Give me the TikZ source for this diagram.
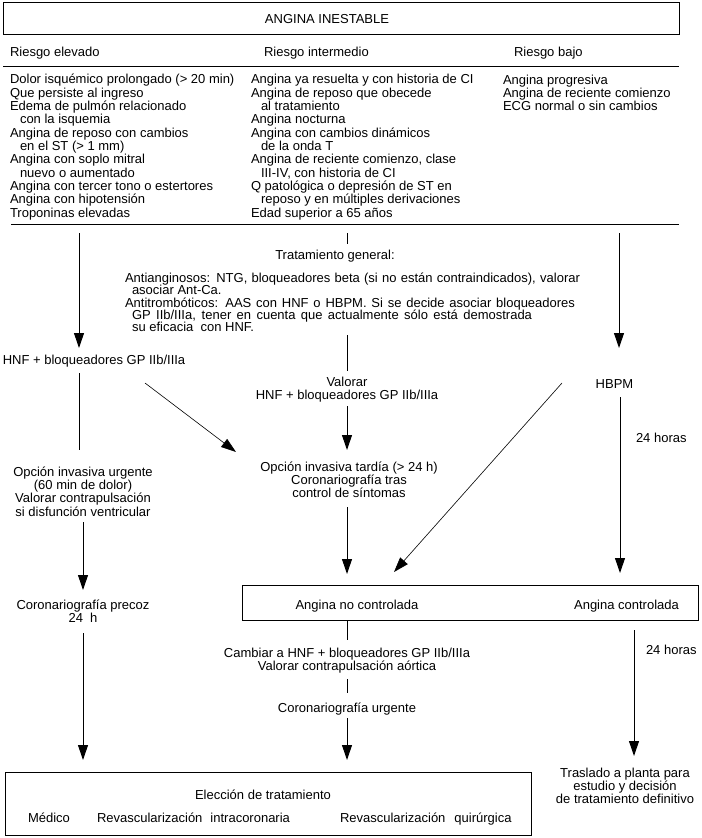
\documentclass[tikz,border=0pt]{standalone}
\usepackage{fontspec}
\setmainfont{Liberation Sans}
\usetikzlibrary{arrows.meta}
\setlength{\lineskiplimit}{-20pt}
\setlength{\lineskip}{0pt}
\begin{document}
\begin{tikzpicture}[x=0.75pt,y=-0.75pt,
  every node/.style={inner sep=0pt, outer sep=0pt},
  ftn/.style={font=\fontsize{9.75pt}{9.9pt}\selectfont},
  ftt/.style={font=\fontsize{9.75pt}{10pt}\selectfont},
  ftp/.style={font=\fontsize{9.75pt}{9.2pt}\selectfont},
  lt/.style={ftn, anchor=base west, align=left},
  ct/.style={ftn, anchor=base, align=center},
  tbl/.style={ftt, anchor=base west, align=left},
  parabox/.style={ftp, anchor=base west, align=left},
  boxnode/.style={draw, line width=0.75pt, anchor=north west},
  ln/.style={line width=0.75pt},
  arr/.style={line width=0.75pt, -{Triangle[length=11.25pt,width=7.5pt]}},
  diag/.style={line width=0.45pt, -{Triangle[length=11.25pt,width=7.5pt]}}
]
\useasboundingbox (0,0) rectangle (702,838);
\newcommand{\ind}{\hspace*{7.5pt}}
\newcommand{\pind}{\hspace*{5.25pt}}
% multi-line nodes are placed by the baseline of their LAST line

% title and table
\node[boxnode, minimum width=507pt, minimum height=24pt] (titlebox) at (3,3) {};
\node[ct] (title) at (327,23.5) {ANGINA INESTABLE};
\node[lt] (h1) at (10,56.5) {Riesgo elevado};
\node[lt] (h2) at (264,56.5) {Riesgo intermedio};
\node[lt] (h3) at (514,56.5) {Riesgo bajo};
\coordinate (r1a) at (3,67); \coordinate (r1b) at (679,67);
\draw[ln] (r1a) -- (r1b);

\node[tbl] (c1) at (10,217.3) {Dolor isquémico prolongado (> 20 min)\\
Que persiste al ingreso\\
Edema de pulmón relacionado\\
\ind con la isquemia\\
Angina de reposo con cambios\\
\ind en el ST (> 1 mm)\\
Angina con soplo mitral\\
\ind nuevo o aumentado\\
Angina con tercer tono o estertores\\
Angina con hipotensión\\
Troponinas elevadas};
\node[tbl] (c2) at (251,217.3) {Angina ya resuelta y con historia de CI\\
Angina de reposo que obecede\\
\ind al tratamiento\\
Angina nocturna\\
Angina con cambios dinámicos\\
\ind de la onda T\\
Angina de reciente comienzo, clase\\
\ind III-IV, con historia de CI\\
Q patológica o depresión de ST en\\
\ind reposo y en múltiples derivaciones\\
Edad superior a 65 años};
\node[tbl] (c3) at (503,110.7) {Angina progresiva\\
Angina de reciente comienzo\\
ECG normal o sin cambios};
\coordinate (r2a) at (11,224); \coordinate (r2b) at (679,224);
\draw[ln] (r2a) -- (r2b);

% left column
\coordinate (L0) at (79,233);
\node[ct] (hnfL) at (94,364.5) {HNF + bloqueadores GP IIb/IIIa};
\draw[arr] (L0) -- (79,348);
\coordinate (L1) at (79,373); \coordinate (L2) at (79,450);
\draw[ln] (L1) -- (L2);
\node[ct] (urg) at (83,516.1) {Opción invasiva urgente\\(60 min de dolor)\\Valorar contrapulsación\\si disfunción ventricular};
\coordinate (L3) at (83,522); \coordinate (L4) at (83,590);
\draw[arr] (L3) -- (L4);
\node[ct] (precoz) at (83,622.7) {Coronariografía precoz\\24\ \ h};
\coordinate (L5) at (83,633); \coordinate (L6) at (83,760);
\draw[arr] (L5) -- (L6);

% middle column
\coordinate (M0) at (347,233); \coordinate (M1) at (347,244);
\draw[ln] (M0) -- (M1);
\node[ct] (trat) at (335,259.5) {Tratamiento general:};
\node[parabox] (para) at (125,331.6) {\makebox[341.25pt][s]{Antianginosos: NTG, bloqueadores beta (si no están contraindicados), valorar}\\
\pind asociar Ant-Ca.\\
\makebox[337.5pt][s]{Antitrombóticos: AAS con HNF o HBPM. Si se decide asociar bloqueadores}\\
\pind\makebox[300pt][s]{GP IIb/IIIa, tener en cuenta que actualmente sólo está demostrada}\\
\pind su eficacia\ \ con HNF.};
\coordinate (M2) at (347,335); \coordinate (M3) at (347,371);
\draw[ln] (M2) -- (M3);
\node[ct] (valorar) at (347,399.7) {Valorar\\HNF + bloqueadores GP IIb/IIIa};
\coordinate (M4) at (347,406); \coordinate (M5) at (347,450);
\draw[arr] (M4) -- (M5);
\node[ct] (tardia) at (349,497.9) {Opción invasiva tardía (> 24 h)\\Coronariografía tras\\control de síntomas};
\coordinate (M6) at (347,507); \coordinate (M7) at (347,574);
\draw[arr] (M6) -- (M7);

% right column
\coordinate (R0) at (619,233); \coordinate (R1) at (619,348);
\draw[arr] (R0) -- (R1);
\node[ct] (hbpm) at (614.5,388.5) {HBPM};
\coordinate (R2) at (620,397); \coordinate (R3) at (620,573);
\draw[arr] (R2) -- (R3);
\node[lt] (h24a) at (636,442.5) {24 horas};

% diagonals
\coordinate (D1a) at (145,383); \coordinate (D1b) at (236,452);
\draw[diag] (D1a) -- (D1b);
\coordinate (D2a) at (562,383); \coordinate (D2b) at (394,572);
\draw[diag] (D2a) -- (D2b);

% angina box
\node[boxnode, minimum width=342pt, minimum height=26.25pt] (abox) at (242,585) {};
\node[ct] (nocont) at (357,609.5) {Angina no controlada};
\node[ct] (cont) at (626.5,609.5) {Angina controlada};

% below the box, middle
\coordinate (B0) at (347,620); \coordinate (B1) at (347,640);
\draw[ln] (B0) -- (B1);
\node[ct] (cambiar) at (347,670.2) {Cambiar a HNF + bloqueadores GP IIb/IIIa\\Valorar contrapulsación aórtica};
\coordinate (B2) at (347,679); \coordinate (B3) at (347,693);
\draw[ln] (B2) -- (B3);
\node[ct] (urgente) at (347,712.5) {Coronariografía urgente};
\coordinate (B4) at (347,718); \coordinate (B5) at (347,760);
\draw[arr] (B4) -- (B5);

% right bottom
\coordinate (RB0) at (634,630); \coordinate (RB1) at (634,756);
\draw[arr] (RB0) -- (RB1);
\node[lt] (h24b) at (646,654.5) {24 horas};
\node[ct] (traslado) at (625,803.9) {Traslado a planta para\\estudio y decisión\\de tratamiento definitivo};

% bottom box
\node[boxnode, minimum width=394.5pt, minimum height=47.25pt] (ebox) at (5,772) {};
\node[ct] (elec) at (263,799.5) {Elección de tratamiento};
\node[ct] (medico) at (49,822.5) {Médico};
\node[lt] (rintra) at (97,822.5) {Revascularización\hspace{6pt}intracoronaria};
\node[lt] (rquir) at (340,822.5) {Revascularización\hspace{6.75pt}quirúrgica};
\end{tikzpicture}
\end{document}
